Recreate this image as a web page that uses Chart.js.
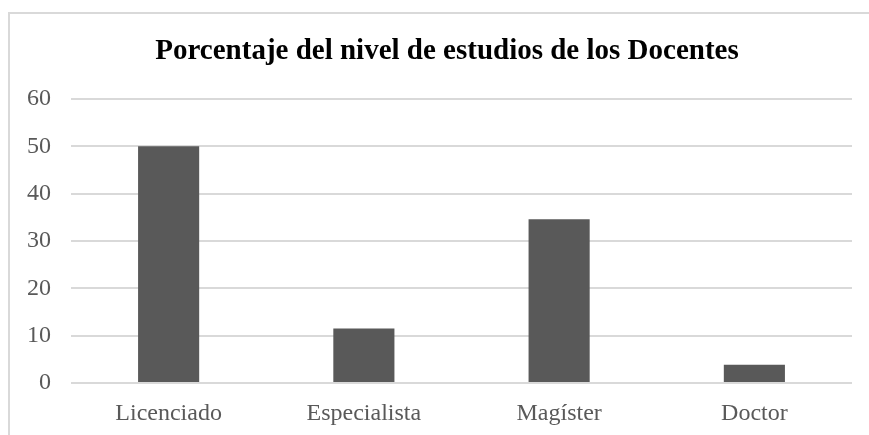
<!DOCTYPE html>
<html>
<head>
<meta charset="utf-8">
<script src="https://cdn.jsdelivr.net/npm/chart.js@4"></script>
<style>
  body { margin: 0; background: #fff; overflow: hidden; }
  #marco {
    position: absolute; left: 8px; top: 12px;
    width: 900px; height: 500px;
    border-left: 2px solid #d9d9d9; border-top: 2px solid #d9d9d9;
  }
  #caja { position: absolute; left: 0; top: 0; width: 869px; height: 435px; }
</style>
</head>
<body>
<div id="marco"></div>
<div id="caja"><canvas id="grafico"></canvas></div>
<script>
// Datos del gráfico
const niveles = ['Licenciado', 'Especialista', 'Magíster', 'Doctor'];
const porcentajes = [50, 11.54, 34.62, 3.85];
const titulo = 'Porcentaje del nivel de estudios de los Docentes';
const escalaMax = 60;
const escalaPaso = 10;

const fuente = "'Liberation Serif', 'Times New Roman', serif";

// Título dibujado a mano para poder centrarlo donde está en el original
const pluginTitulo = {
  id: 'pluginTitulo',
  afterDraw(chart) {
    const c = chart.ctx;
    c.save();
    c.fillStyle = '#000';
    c.font = 'bold 29px ' + fuente;
    c.textAlign = 'center';
    c.textBaseline = 'middle';
    c.fillText(titulo, 447, 52);
    c.restore();
  }
};

const ctx = document.getElementById('grafico').getContext('2d');

new Chart(ctx, {
  type: 'bar',
  data: {
    labels: niveles,
    datasets: [{
      data: porcentajes,
      backgroundColor: '#595959',
      borderWidth: 0,
      barPercentage: 0.313,
      categoryPercentage: 1
    }]
  },
  options: {
    responsive: true,
    maintainAspectRatio: false,
    animation: false,
    layout: { padding: { left: 0, right: 17, top: 99, bottom: 0 } },
    plugins: {
      legend: { display: false },
      tooltip: { enabled: false }
    },
    scales: {
      x: {
        grid: { display: false },
        border: { display: false },
        ticks: { color: '#595959', font: { family: fuente, size: 24 }, padding: 8 },
        afterFit: (escala) => { escala.height = 52; }
      },
      y: {
        min: 0,
        max: escalaMax,
        grid: { color: '#d9d9d9', lineWidth: 2, drawTicks: false },
        border: { display: false },
        ticks: {
          stepSize: escalaPaso,
          color: '#595959',
          font: { family: fuente, size: 24 },
          padding: 20
        },
        afterFit: (escala) => { escala.width = 71; }
      }
    }
  },
  plugins: [pluginTitulo]
});
</script>
</body>
</html>
